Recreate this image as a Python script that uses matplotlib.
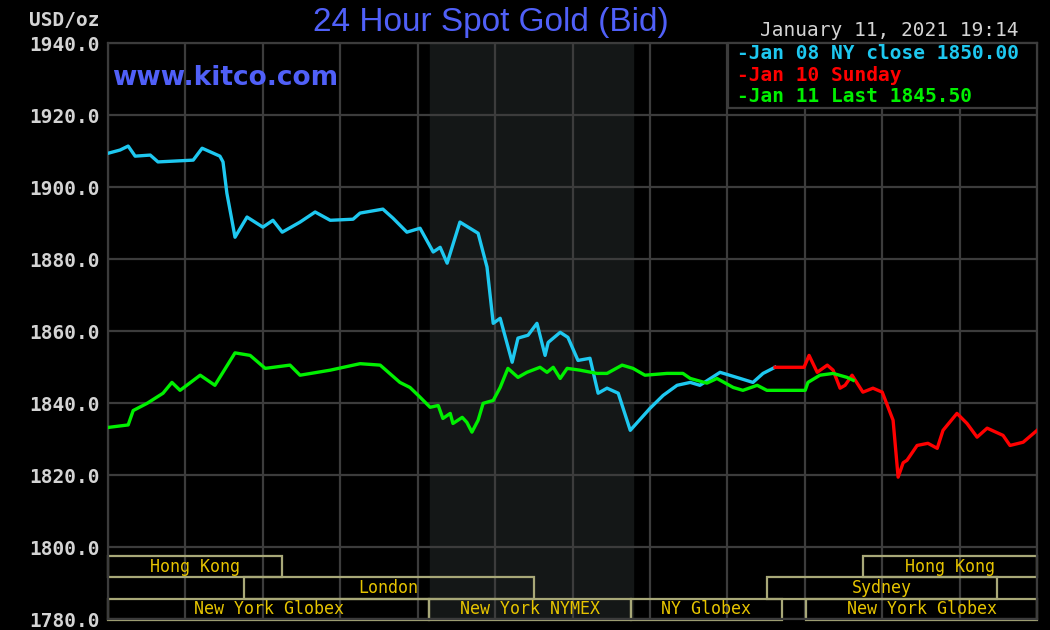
import matplotlib
matplotlib.use("Agg")
import matplotlib.pyplot as plt
from matplotlib.patches import Rectangle

# hours since chart start (24 h window), bid price in USD/oz
jan08_t = [0, 0.31, 0.52, 0.70, 1.09, 1.29, 2.20, 2.43, 2.89, 2.97, 3.07, 3.20, 3.28,
           3.59, 4.00, 4.26, 4.50, 4.96, 5.35, 5.74, 6.33, 6.51, 7.10, 7.36, 7.72,
           8.06, 8.40, 8.58, 8.76, 9.09, 9.56, 9.79, 9.95, 10.13, 10.44, 10.59,
           10.85, 11.08, 11.29, 11.37, 11.68, 11.88, 12.14, 12.45, 12.66, 12.89,
           13.18, 13.49, 14.00, 14.34, 14.70, 15.04, 15.29, 15.81, 16.33, 16.66,
           16.92, 17.23]
jan08_p = [1909.4, 1910.3, 1911.4, 1908.6, 1908.9, 1907.0, 1907.5, 1910.8, 1908.6,
           1907.0, 1898.3, 1890.8, 1886.1, 1891.7, 1888.9, 1890.8, 1887.5, 1890.3,
           1893.1, 1890.8, 1891.1, 1892.8, 1893.9, 1891.4, 1887.5, 1888.6, 1882.0,
           1883.3, 1878.9, 1890.3, 1887.2, 1877.8, 1862.2, 1863.6, 1851.4, 1858.1,
           1858.9, 1862.2, 1853.3, 1856.9, 1859.7, 1858.3, 1851.9, 1852.5, 1842.8,
           1844.2, 1842.8, 1832.5, 1838.6, 1842.2, 1845.0, 1845.8, 1845.0, 1848.6,
           1846.9, 1845.8, 1848.3, 1850.0]

jan10_t = [17.23, 17.98, 18.11, 18.32, 18.58, 18.73, 18.91, 19.04, 19.22, 19.50,
           19.76, 20.00, 20.28, 20.41, 20.54, 20.64, 20.90, 21.18, 21.42, 21.57,
           21.93, 22.19, 22.45, 22.71, 23.12, 23.30, 23.64, 24.0]
jan10_p = [1850.0, 1850.0, 1853.3, 1848.6, 1850.6, 1849.2, 1844.2, 1845.0, 1847.8,
           1843.1, 1844.2, 1843.1, 1835.3, 1819.5, 1823.5, 1824.2, 1828.3, 1828.9,
           1827.5, 1832.5, 1837.2, 1834.4, 1830.6, 1833.1, 1831.1, 1828.3, 1829.2,
           1832.5]

jan11_t = [0, 0.52, 0.65, 1.01, 1.42, 1.65, 1.86, 2.38, 2.76, 3.28, 3.67, 4.06, 4.70,
           4.96, 5.74, 6.51, 7.03, 7.54, 7.80, 8.06, 8.32, 8.53, 8.65, 8.84, 8.91,
           9.15, 9.27, 9.40, 9.56, 9.69, 9.95, 10.13, 10.33, 10.59, 10.82, 11.16,
           11.34, 11.50, 11.68, 11.86, 12.19, 12.63, 12.89, 13.28, 13.56, 13.87,
           14.44, 14.85, 15.04, 15.47, 15.73, 16.15, 16.40, 16.77, 17.02, 18.01,
           18.08, 18.39, 18.73, 19.09, 19.25]
jan11_p = [1833.3, 1834.0, 1838.0, 1840.0, 1842.8, 1845.8, 1843.6, 1847.8, 1845.0,
           1854.0, 1853.3, 1849.7, 1850.6, 1847.8, 1849.2, 1851.0, 1850.6, 1845.8,
           1844.4, 1841.7, 1838.9, 1839.4, 1835.8, 1837.2, 1834.4, 1836.1, 1834.7,
           1832.0, 1835.3, 1840.0, 1840.8, 1844.4, 1849.7, 1847.2, 1848.6, 1850.0,
           1848.6, 1850.0, 1846.9, 1849.7, 1849.2, 1848.3, 1848.3, 1850.6, 1849.7,
           1847.8, 1848.3, 1848.3, 1846.9, 1845.6, 1846.9, 1844.4, 1843.6, 1845.0,
           1843.6, 1843.6, 1845.8, 1847.8, 1848.3, 1847.2, 1846.4]

# trading sessions: label, start hour, end hour, row (0 = top)
sessions = [("Hong Kong", 0, 4.5, 0), ("Hong Kong", 19.5, 24, 0),
            ("London", 3.5, 11.0, 1), ("Sydney", 17.02, 22.97, 1),
            ("New York Globex", 0, 8.3, 2), ("New York NYMEX", 8.3, 13.5, 2),
            ("NY Globex", 13.5, 17.4, 2), ("New York Globex", 18.03, 24, 2)]
nymex_open, nymex_close = 8.33, 13.56

legend_labels = ["Jan 08 NY close 1850.00", "Jan 10 Sunday", "Jan 11 Last 1845.50"]
colors = ["#1ec8f0", "#ff0000", "#00f000"]

mono = "DejaVu Sans Mono"
grid_c = "#3c3c3c"

fig = plt.figure(figsize=(10.5, 6.3), dpi=100, facecolor="black")
ax = fig.add_axes([0.1029, 0.0167, 0.8848, 0.915])
ax.set_facecolor("black")
ax.set_xlim(0, 24)
ax.set_ylim(1780, 1940)
ax.set_xticks(range(0, 25, 2))
ax.set_yticks(range(1780, 1941, 20))
ax.set_yticklabels(["%.1f" % v for v in range(1780, 1941, 20)])
ax.grid(True, color=grid_c, lw=1.6, zorder=1)
ax.set_axisbelow(True)
ax.tick_params(length=0, labelbottom=False, pad=6, labelcolor="#d4d4d4")
for lab in ax.get_yticklabels():
    lab.set_fontfamily(mono)
    lab.set_fontweight("bold")
    lab.set_fontsize(14)
for s in ax.spines.values():
    s.set_color(grid_c)
    s.set_linewidth(1.6)

ax.axvspan(nymex_open, nymex_close, color="#141717", zorder=0)

# session boxes
row_h = 5.9
top = 1797.6
for name, t0, t1, row in sessions:
    y0 = top - (row + 1) * row_h
    ax.add_patch(Rectangle((t0, y0), t1 - t0, row_h, fill=False, ec="#a8a878",
                           lw=1.6, zorder=2, clip_on=False))
    ax.text((t0 + t1) / 2, y0 + row_h / 2, name, color="#e6c400", ha="center",
            va="center", family=mono, fontsize=12, zorder=3)

ax.plot(jan08_t, jan08_p, color=colors[0], lw=2.4, zorder=4)
ax.plot(jan10_t, jan10_p, color=colors[1], lw=2.4, zorder=4)
ax.plot(jan11_t, jan11_p, color=colors[2], lw=2.4, zorder=5)

# legend box
ax.add_patch(Rectangle((16.02, 1921.9), 24 - 16.02, 18.1, fc="black", ec=grid_c,
                       lw=1.6, zorder=6, clip_on=False))
for i, (lab, c) in enumerate(zip(legend_labels, colors)):
    ax.text(0.6765, 0.982 - i * 0.0375, "-" + lab, transform=ax.transAxes, color=c,
            family=mono, fontweight="bold", fontsize=14, va="center", zorder=7)

fig.text(100 / 1050, 1 - 20 / 630, "USD/oz", color="#d4d4d4", family=mono,
         fontweight="bold", fontsize=14, ha="right", va="center")
fig.text(1018 / 1050, 1 - 30 / 630, "January 11, 2021 19:14", color="#d4d4d4",
         family=mono, fontsize=14, ha="right", va="center")
fig.text(491 / 1050, 1 - 22 / 630, "24 Hour Spot Gold (Bid)", color="#5060f8",
         family="Liberation Sans", fontsize=24, ha="center", va="center")
ax.text(0.004, 0.939, "www.kitco.com", transform=ax.transAxes, color="#5060f8",
        family="DejaVu Sans", fontweight="bold", fontsize=19, ha="left",
        va="center", zorder=3)

fig.savefig("out.png", dpi=100, facecolor="black")
